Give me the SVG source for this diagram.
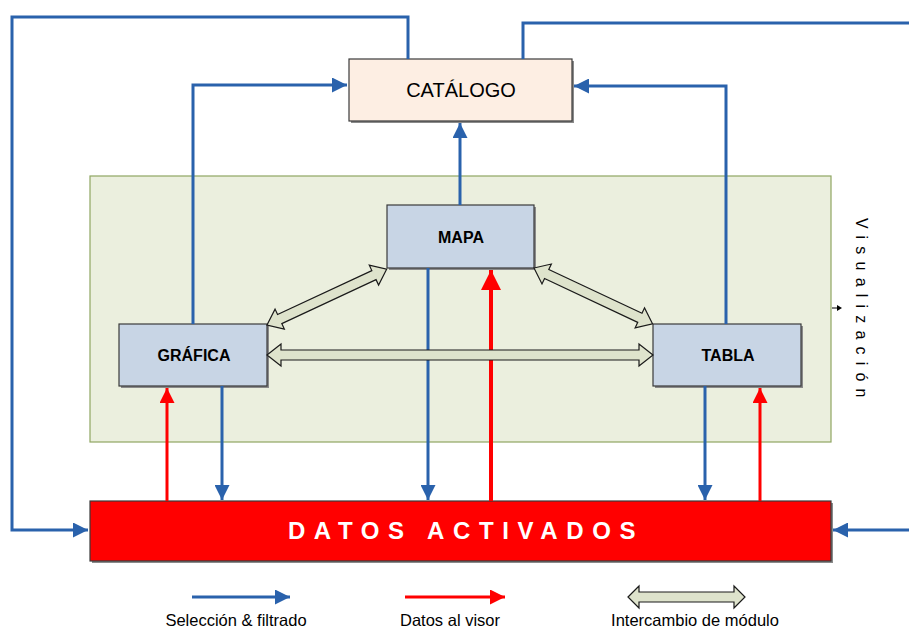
<svg xmlns="http://www.w3.org/2000/svg" width="909" height="628" viewBox="0 0 909 628">
<defs>
<style>
.box{stroke:#3a3a3a;stroke-width:1.2}
.sh{fill:#8a8a8a}
.blue{fill:none;stroke:#2A62AC;stroke-width:3}
.red{fill:none;stroke:#FF0000;stroke-width:3}
.blk{fill:#DEE3CC;stroke:#1a1a1a;stroke-width:1.2;stroke-linejoin:miter}
.lbl{font-family:"Liberation Sans",Arial,sans-serif;fill:#000}
</style>
<marker id="ab" viewBox="0 0 10 10" refX="10" refY="5" markerWidth="5" markerHeight="5" markerUnits="strokeWidth" orient="auto">
<path d="M0,0 L10,5 L0,10 Z" fill="#2A62AC"/>
</marker>
<marker id="ar" viewBox="0 0 10 10" refX="10" refY="5" markerWidth="5" markerHeight="5" markerUnits="strokeWidth" orient="auto">
<path d="M0,0 L10,5 L0,10 Z" fill="#FF0000"/>
</marker>
</defs>
<rect width="909" height="628" fill="#ffffff"/>

<g id="visualizacion">
<rect x="90" y="176" width="741" height="266" fill="#EBEFDE" stroke="#8FA662" stroke-width="1.2"/>
<text class="lbl" transform="translate(856,218) rotate(90)" font-size="16" letter-spacing="7.2">Visualización</text>
<path d="M832,308 L838,308" stroke="#000" stroke-width="1"/>
<path d="M837,305 L842,308 L837,311 Z" fill="#000"/>
</g>

<g id="catalogo">
<rect x="351" y="61" width="223" height="62" class="sh"/>
<rect x="349" y="59" width="223" height="62" fill="#FDEEE3" class="box"/>
<text class="lbl" x="461" y="97" font-size="20" text-anchor="middle">CATÁLOGO</text>
</g>

<g id="mapa">
<rect x="389" y="207" width="147" height="63" class="sh"/>
<rect x="387" y="205" width="147" height="63" fill="#C8D5E5" class="box"/>
<text class="lbl" x="461" y="243" font-size="16" font-weight="bold" text-anchor="middle">MAPA</text>
</g>

<g id="grafica">
<rect x="121" y="326" width="148" height="62" class="sh"/>
<rect x="119" y="324" width="148" height="62" fill="#C8D5E5" class="box"/>
<text class="lbl" x="194" y="361" font-size="16" font-weight="bold" text-anchor="middle">GRÁFICA</text>
</g>

<g id="tabla">
<rect x="655" y="326" width="148" height="62" class="sh"/>
<rect x="653" y="324" width="148" height="62" fill="#C8D5E5" class="box"/>
<text class="lbl" x="728" y="361" font-size="16" font-weight="bold" text-anchor="middle">TABLA</text>
</g>

<g id="datos">
<rect x="92" y="503" width="741" height="60" class="sh"/>
<rect x="90" y="501" width="741" height="60" fill="#FF0000" class="box"/>
<text class="lbl" x="466" y="539" font-size="24" font-weight="bold" letter-spacing="8.6" text-anchor="middle" style="fill:#ffffff">DATOS ACTIVADOS</text>
</g>

<g id="connectors">
<path class="blue" d="M408,59 L408,17 L12,17 L12,530 L88,530" marker-end="url(#ab)"/>
<path class="blue" d="M523,59 L523,23 L909,23"/>
<path class="blue" d="M909,530 L833,530" marker-end="url(#ab)"/>
<path class="blue" d="M193,324 L193,85 L347,85" marker-end="url(#ab)"/>
<path class="blue" d="M726,324 L726,86 L574,86" marker-end="url(#ab)"/>
<path class="blue" d="M460,205 L460,123" marker-end="url(#ab)"/>
<path class="blue" d="M222,386 L222,500" marker-end="url(#ab)"/>
<path class="blue" d="M428,268 L428,500" marker-end="url(#ab)"/>
<path class="blue" d="M705,386 L705,500" marker-end="url(#ab)"/>
<path class="red" d="M167,501 L167,388" marker-end="url(#ar)"/>
<path class="red" d="M491,501 L491,270" marker-end="url(#ar)" style="stroke-width:4"/>
<path class="red" d="M760,501 L760,388" marker-end="url(#ar)"/>
<polygon class="blk" transform="translate(267,355)" points="0,0 14,-11 14,-5 372,-5 372,-11 386,0 372,11 372,5 14,5 14,11"/>
<polygon class="blk" transform="translate(267,325) rotate(-25)" points="0,0 14,-11 14,-5 118,-5 118,-11 132,0 118,11 118,5 14,5 14,11"/>
<polygon class="blk" transform="translate(534,268) rotate(25.2)" points="0,0 14,-11 14,-5 117,-5 117,-11 131,0 117,11 117,5 14,5 14,11"/>
</g>

<g id="legend">
<path class="blue" d="M192,597 L290,597" marker-end="url(#ab)"/>
<text class="lbl" x="236" y="626" font-size="16.5" text-anchor="middle">Selección &amp; filtrado</text>
<path class="red" d="M405,597 L505,597" marker-end="url(#ar)"/>
<text class="lbl" x="450" y="626" font-size="16.5" text-anchor="middle">Datos al visor</text>
<polygon class="blk" transform="translate(628,597)" points="0,0 11,-11 11,-5 106,-5 106,-11 117,0 106,11 106,5 11,5 11,11"/>
<text class="lbl" x="695" y="626" font-size="16.5" text-anchor="middle">Intercambio de módulo</text>
</g>
</svg>
